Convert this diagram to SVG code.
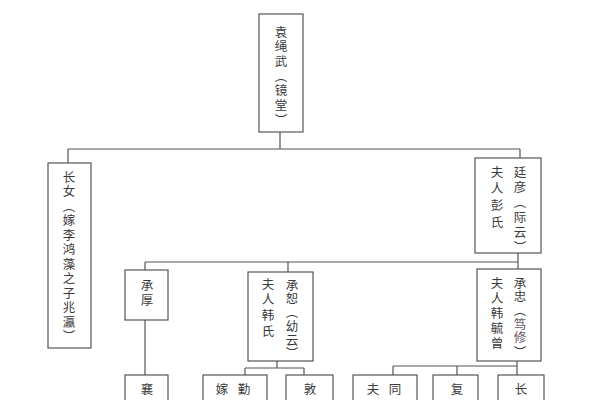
<svg xmlns="http://www.w3.org/2000/svg" width="600" height="400" viewBox="0 0 600 400">
<style>
.box{fill:#fff;stroke:#555;stroke-width:1.2}
.ln{fill:none;stroke:#555;stroke-width:1.2}
text{font-family:"Noto Sans CJK SC","Noto Sans CJK JP",sans-serif;font-size:12.5px;fill:#3a3a3a;text-anchor:middle;dominant-baseline:central}
text.v{writing-mode:vertical-rl;text-anchor:start}
.pk{fill:#6a5565}
</style>
<rect width="600" height="400" fill="#fff"/>
<g id="connectors">
<path class="ln" d="M280 132V149M68 149H520M68 149V163M520 149V158"/>
<path class="ln" d="M518 253V262M145 262H518M145 262V270M288 262V272M518 262V269"/>
<path class="ln" d="M145 320V375"/>
<path class="ln" d="M277 361V368M245 368H304M245 368V375M304 368V375"/>
<path class="ln" d="M517 361V366M393 366H517M393 366V375M457 366V375M517 366V375"/>
</g>
<g id="n-yuanshengwu">
<rect class="box" x="259" y="14" width="44" height="118"/>
<text class="v" x="281" y="25.5" letter-spacing="2.2">袁绳武（镜堂）</text>
</g>
<g id="n-zhangnv">
<rect class="box" x="48" y="163" width="43" height="185"/>
<text class="v" x="69" y="170.5" letter-spacing="2">长女（嫁李鸿藻之子兆瀛）</text>
</g>
<g id="n-tingyan">
<rect class="box" x="475" y="158" width="66" height="95"/>
<text class="v" x="520" y="165.5" letter-spacing="2.7">廷彦（际云）</text>
<text class="v" x="497" y="165.5" letter-spacing="4.2">夫人彭氏</text>
</g>
<g id="n-chenghou">
<rect class="box" x="125" y="270" width="43" height="50"/>
<text class="v" x="147" y="278.5" letter-spacing="2.5">承厚</text>
</g>
<g id="n-chengshu">
<rect class="box" x="248" y="272" width="65" height="89"/>
<text class="v" x="292" y="278.5" letter-spacing="1.3">承恕（幼云）</text>
<text class="v" x="268" y="277.5" letter-spacing="3.2">夫人韩氏</text>
</g>
<g id="n-chengzhong">
<rect class="box" x="477" y="269" width="64" height="92"/>
<text class="v" x="520" y="276.5" letter-spacing="1.3">承忠（<tspan class="pk">笃修</tspan>）</text>
<text class="v" x="497" y="276.5" letter-spacing="2.5">夫人韩毓曾</text>
</g>
<g id="n-xiang">
<rect class="box" x="125" y="375" width="43" height="40"/>
<text x="147" y="388">襄</text>
</g>
<g id="n-jia-qin">
<rect class="box" x="203" y="375" width="64" height="40"/>
<text x="222" y="388">嫁</text>
<text x="244" y="388">勤</text>
</g>
<g id="n-dun">
<rect class="box" x="286" y="375" width="47" height="40"/>
<text x="310" y="388">敦</text>
</g>
<g id="n-fu-tong">
<rect class="box" x="353" y="375" width="64" height="40"/>
<text x="373" y="388">夫</text>
<text x="395" y="388">同</text>
</g>
<g id="n-fu">
<rect class="box" x="433" y="375" width="45" height="40"/>
<text x="457" y="388">复</text>
</g>
<g id="n-zhang">
<rect class="box" x="498" y="375" width="46" height="40"/>
<text x="521" y="388">长</text>
</g>
</svg>
